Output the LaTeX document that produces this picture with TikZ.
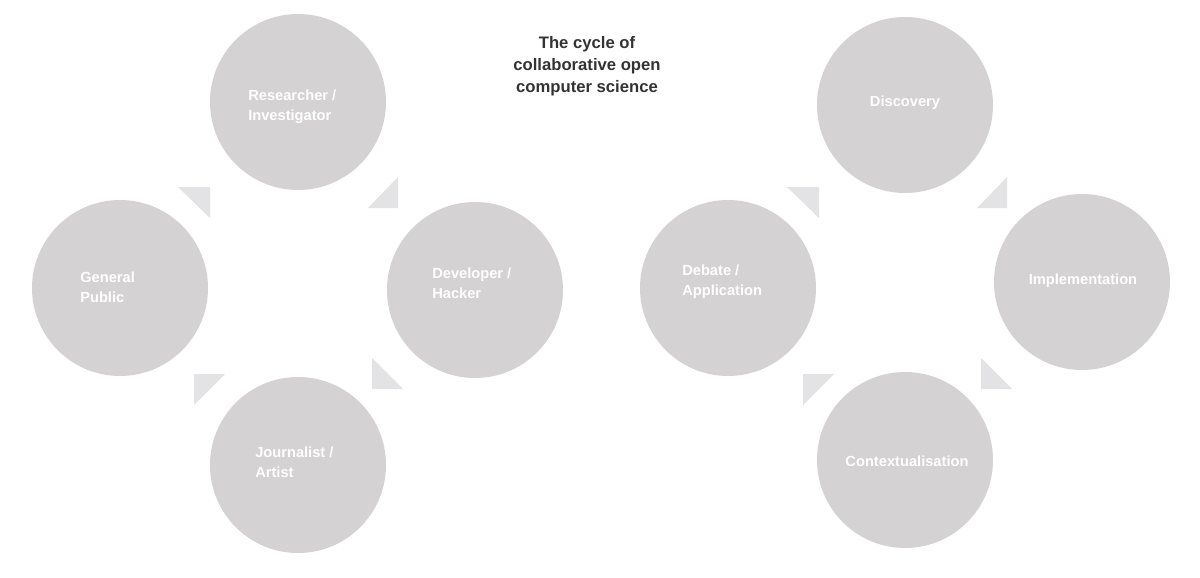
\documentclass[tikz,border=0pt]{standalone}
\usepackage{fontspec}
\setmainfont{Liberation Sans}
\begin{document}
\begin{tikzpicture}[x=0.75pt,y=-0.75pt,
  circ/.style={circle,fill=circgray,draw=none,minimum size=176*0.75pt,inner sep=0pt},
  lbl/.style={text=white,font=\bfseries\fontsize{11}{15}\selectfont,align=left,anchor=west,inner sep=0pt},
  lblc/.style={text=white,font=\bfseries\fontsize{11}{15}\selectfont,inner sep=0pt},
  tri/.style={fill=trigray,draw=none}]
\definecolor{circgray}{HTML}{D4D2D3}
\definecolor{trigray}{HTML}{E3E3E5}
\useasboundingbox (0,0) rectangle (1200,578);
\node[circ] (res) at (298,102) {};
\node[circ] (gp) at (120,288) {};
\node[circ] (dev) at (475,290) {};
\node[circ] (jou) at (298,465) {};
\node[circ] (dis) at (905,105) {};
\node[circ] (deb) at (728,288) {};
\node[circ] (imp) at (1082,282) {};
\node[circ] (con) at (905,460) {};
\node[lbl] (tres) at (248,107) {Researcher /\\Investigator};
\node[lbl] (tgp) at (80,287) {General\\Public};
\node[lbl] (tdev) at (432,283) {Developer /\\Hacker};
\node[lbl] (tjou) at (255,462) {Journalist /\\Artist};
\node[lblc] (tdis) at (905,103) {Discovery};
\node[lbl] (tdeb) at (682,282) {Debate /\\Application};
\node[lblc] (timp) at (1083,281) {Implementation};
\node[lblc] (tcon) at (907,461) {Contextualisation};
\node[font=\bfseries\fontsize{12.5}{16.5}\selectfont,text=black!80,align=center] (title) at (587,66) {The cycle of\\collaborative open\\computer science};
\foreach \dx in {0,609}{
  \fill[tri] (178+\dx,187) -- (210+\dx,187) -- (210+\dx,218) -- cycle;
  \fill[tri] (368+\dx,208) -- (398+\dx,208) -- (398+\dx,177) -- cycle;
  \fill[tri] (194+\dx,374) -- (225+\dx,374) -- (194+\dx,405) -- cycle;
  \fill[tri] (372+\dx,358) -- (372+\dx,389) -- (403+\dx,389) -- cycle;
}
\end{tikzpicture}
\end{document}
